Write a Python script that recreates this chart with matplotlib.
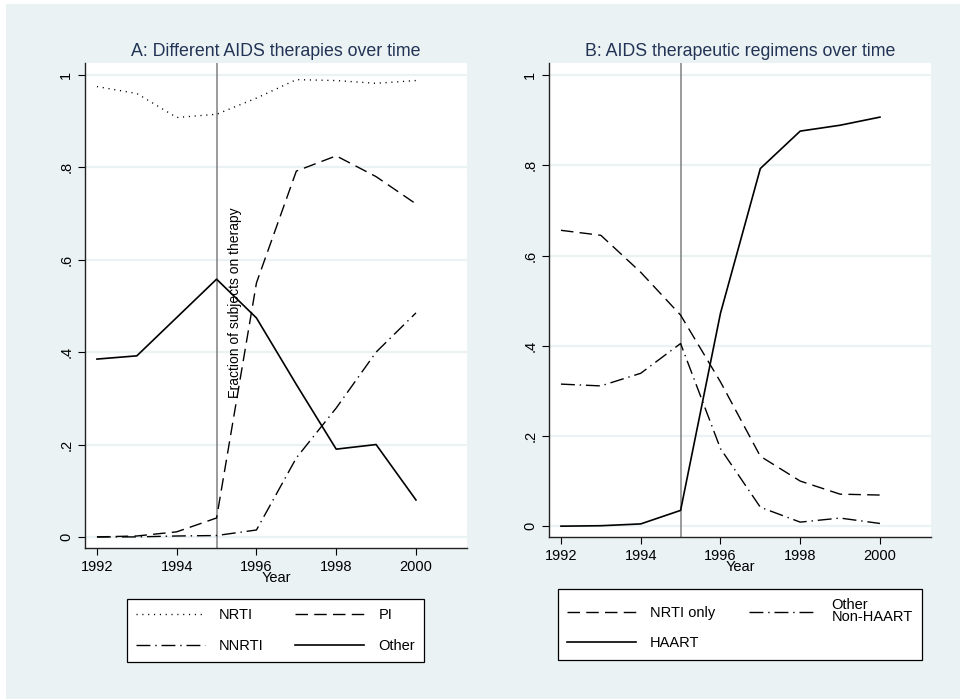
import numpy as np
import matplotlib.pyplot as plt
from matplotlib.patches import Rectangle

plt.rcParams['font.family'] = ['Liberation Sans', 'DejaVu Sans']

years = [1992, 1993, 1994, 1995, 1996, 1997, 1998, 1999, 2000]

# panel A: therapies
nrti = [0.975, 0.96, 0.908, 0.915, 0.95, 0.99, 0.988, 0.982, 0.988]
pi = [0.0, 0.002, 0.011, 0.041, 0.55, 0.792, 0.825, 0.78, 0.721]
nnrti = [0.0, 0.0, 0.002, 0.003, 0.015, 0.171, 0.279, 0.40, 0.485]
other = [0.385, 0.392, 0.475, 0.558, 0.474, 0.33, 0.19, 0.20, 0.08]

# panel B: regimens
nrti_only = [0.656, 0.645, 0.563, 0.468, 0.32, 0.155, 0.10, 0.071, 0.069]
other_nonhaart = [0.315, 0.311, 0.339, 0.405, 0.172, 0.042, 0.009, 0.018, 0.006]
haart = [0.0, 0.001, 0.005, 0.035, 0.472, 0.793, 0.876, 0.889, 0.907]

yticks = [0, 0.2, 0.4, 0.6, 0.8, 1]
yticklabels = ['0', '.2', '.4', '.6', '.8', '1']
xticks = [1992, 1994, 1996, 1998, 2000]

W, H = 964, 700
bg = '#EAF2F3'
navy = '#223355'

fig = plt.figure(figsize=(W / 100, H / 100), dpi=100, facecolor='white')
fig.patches.append(Rectangle((6 / W, 1 - 699 / H), 954 / W, 695 / H,
                             transform=fig.transFigure, facecolor=bg,
                             edgecolor='none', zorder=-10))

def px_axes(x0, y0, x1, y1):
    return fig.add_axes([x0 / W, 1 - y1 / H, (x1 - x0) / W, (y1 - y0) / H])

dotted = (0, (0.8, 3.4))
dashed = (0, (9, 4.5))
dashdot = (0, (10, 3.5, 1, 3.5))

def style(ax, ylo, yhi):
    ax.set_facecolor('white')
    ax.set_xlim(1991.7, 2001.28)
    ax.set_ylim(ylo, yhi)
    for s in ['top', 'right']:
        ax.spines[s].set_visible(False)
    for s in ['left', 'bottom']:
        ax.spines[s].set_linewidth(1.0)
        ax.spines[s].set_color('#222222')
    ax.set_yticks(yticks)
    ax.set_yticklabels(yticklabels, rotation=90, va='center')
    ax.set_xticks(xticks)
    ax.tick_params(axis='both', labelsize=10.5, length=5, width=0.8, direction='out')
    ax.grid(axis='y', color=bg, linewidth=1.6)
    ax.set_axisbelow(True)
    ax.axvline(1995, color='#808080', linewidth=1.1)
    ax.set_xlabel('Year', fontsize=10.5, labelpad=-2)

# panel A
axA = px_axes(85, 63, 467, 548)
style(axA, -0.024, 1.026)
hA = []
hA += axA.plot(years, nrti, color='black', lw=1.0, linestyle=dotted, label='NRTI')
hA += axA.plot(years, nnrti, color='black', lw=1.0, linestyle=dashdot, label='NNRTI')
hA += axA.plot(years, pi, color='black', lw=1.0, linestyle=dashed, label='PI')
hA += axA.plot(years, other, color='black', lw=1.2, label='Other')
axA.set_title('A: Different AIDS therapies over time', fontsize=12.8, color=navy, pad=5)

# panel B
axB = px_axes(549, 63, 931, 537)
style(axB, -0.024, 1.027)
hB = []
hB += axB.plot(years, nrti_only, color='black', lw=1.0, linestyle=dashed, label='NRTI only')
hB += axB.plot(years, haart, color='black', lw=1.2, label='HAART')
hB += axB.plot(years, other_nonhaart, color='black', lw=1.0, linestyle=dashdot,
               label='Other\nNon-HAART')
axB.set_title('B: AIDS therapeutic regimens over time', fontsize=12.8, color=navy, pad=5)

fig.text(235 / W, 1 - 303 / H, 'Fraction of subjects on therapy', rotation=90,
         ha='center', va='center', fontsize=10)

def px_legend(handles, x0, y0, x1, y1):
    leg = fig.legend(handles, [h.get_label() for h in handles], ncol=2,
                     loc='upper left', mode='expand',
                     bbox_to_anchor=(x0 / W, 1 - y1 / H, (x1 - x0) / W, (y1 - y0) / H),
                     bbox_transform=fig.transFigure, borderaxespad=0,
                     fancybox=False, edgecolor='black', framealpha=1,
                     fontsize=10.5, handlelength=4.7, handletextpad=1.0,
                     labelspacing=1.15, borderpad=0.62, columnspacing=2.0)
    leg.get_frame().set_linewidth(0.9)
    for t in leg.get_texts():
        t.set_linespacing(0.85)
    return leg

px_legend(hA, 127, 599, 424, 661)
px_legend(hB, 558, 589, 922, 661)

fig.savefig('out.png', dpi=100, facecolor='white')
